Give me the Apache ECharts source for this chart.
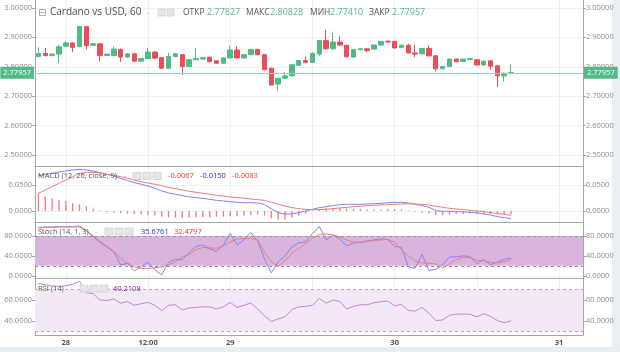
<!DOCTYPE html>
<html>
<head>
<meta charset="utf-8">
<script src="https://cdn.jsdelivr.net/npm/echarts@6/dist/echarts.min.js"></script>
<style>
  html, body { margin: 0; padding: 0; background: #fff; }
  #chart { width: 620px; height: 352px; }
</style>
</head>
<body>
<div id="chart"></div>
<script>
// hourly candles, 27 20:00 .. 30 17:00; x = hours from 28 00:00
const firstHour = -4;

// [open, close, low, high]
const candles = [
  [2.835, 2.845, 2.832, 2.866], [2.845, 2.838, 2.835, 2.864], [2.838, 2.843, 2.836, 2.846], [2.843, 2.868, 2.813, 2.875], [2.870, 2.881, 2.868, 2.886],
  [2.881, 2.866, 2.850, 2.883], [2.869, 2.937, 2.866, 2.938], [2.937, 2.872, 2.858, 2.938], [2.873, 2.878, 2.872, 2.880], [2.878, 2.838, 2.818, 2.880],
  [2.838, 2.843, 2.836, 2.845], [2.838, 2.860, 2.836, 2.869], [2.859, 2.833, 2.816, 2.862], [2.833, 2.844, 2.831, 2.846], [2.844, 2.819, 2.817, 2.847],
  [2.819, 2.828, 2.818, 2.830], [2.828, 2.850, 2.826, 2.864], [2.850, 2.829, 2.827, 2.852], [2.831, 2.795, 2.794, 2.832], [2.795, 2.835, 2.794, 2.847],
  [2.835, 2.844, 2.833, 2.846], [2.841, 2.801, 2.772, 2.843], [2.801, 2.824, 2.799, 2.826], [2.824, 2.828, 2.822, 2.864], [2.826, 2.831, 2.824, 2.833],
  [2.832, 2.818, 2.814, 2.835], [2.820, 2.812, 2.810, 2.821], [2.812, 2.830, 2.811, 2.832], [2.830, 2.857, 2.828, 2.872], [2.857, 2.830, 2.828, 2.870],
  [2.830, 2.841, 2.828, 2.844], [2.841, 2.859, 2.839, 2.861], [2.859, 2.841, 2.839, 2.861], [2.841, 2.790, 2.788, 2.843], [2.795, 2.738, 2.737, 2.797],
  [2.741, 2.761, 2.719, 2.763], [2.761, 2.769, 2.759, 2.783], [2.769, 2.807, 2.767, 2.809], [2.805, 2.821, 2.803, 2.823], [2.821, 2.815, 2.812, 2.835],
  [2.815, 2.845, 2.813, 2.849], [2.843, 2.889, 2.837, 2.891], [2.889, 2.861, 2.858, 2.926], [2.861, 2.884, 2.858, 2.915], [2.884, 2.874, 2.870, 2.903],
  [2.873, 2.834, 2.832, 2.875], [2.833, 2.858, 2.831, 2.860], [2.858, 2.861, 2.856, 2.863], [2.861, 2.855, 2.850, 2.863], [2.860, 2.874, 2.858, 2.876],
  [2.874, 2.886, 2.872, 2.888], [2.887, 2.884, 2.882, 2.889], [2.886, 2.864, 2.862, 2.888], [2.866, 2.873, 2.864, 2.875], [2.873, 2.847, 2.845, 2.878],
  [2.847, 2.843, 2.833, 2.875], [2.844, 2.862, 2.842, 2.865], [2.862, 2.837, 2.835, 2.872], [2.837, 2.793, 2.785, 2.839], [2.793, 2.801, 2.791, 2.803],
  [2.801, 2.826, 2.799, 2.828], [2.826, 2.817, 2.815, 2.828], [2.818, 2.826, 2.816, 2.828], [2.825, 2.828, 2.823, 2.830], [2.824, 2.806, 2.804, 2.826],
  [2.806, 2.819, 2.804, 2.821], [2.820, 2.802, 2.790, 2.822], [2.803, 2.769, 2.731, 2.805], [2.769, 2.778, 2.750, 2.780], [2.77827, 2.77957, 2.77410, 2.80828]
];

const macdLine = [
  0.0679, 0.0705, 0.0724, 0.0750, 0.0769, 0.0788, 0.0801, 0.0788, 0.0769, 0.0737,
  0.0705, 0.0673, 0.0628, 0.0583, 0.0545, 0.0513, 0.0481, 0.0436, 0.0385, 0.0346,
  0.0321, 0.0295, 0.0269, 0.0256, 0.0244, 0.0224, 0.0205, 0.0192, 0.0179, 0.0167,
  0.0160, 0.0160, 0.0154, 0.0128, 0.0038, -0.0032, -0.0058, -0.0058, -0.0032, 0.0000,
  0.0032, 0.0064, 0.0083, 0.0103, 0.0122, 0.0128, 0.0128, 0.0128, 0.0135, 0.0141,
  0.0147, 0.0160, 0.0167, 0.0167, 0.0154, 0.0128, 0.0103, 0.0071, 0.0006, -0.0006,
  -0.0006, -0.0013, -0.0019, -0.0026, -0.0038, -0.0058, -0.0077, -0.0109, -0.0128, -0.0150
];
const signalLine = [
  0.0340, 0.0404, 0.0468, 0.0532, 0.0596, 0.0660, 0.0724, 0.0744, 0.0744, 0.0731,
  0.0705, 0.0686, 0.0660, 0.0628, 0.0596, 0.0564, 0.0538, 0.0513, 0.0487, 0.0455,
  0.0429, 0.0404, 0.0378, 0.0359, 0.0340, 0.0321, 0.0301, 0.0288, 0.0269, 0.0256,
  0.0244, 0.0231, 0.0218, 0.0205, 0.0167, 0.0128, 0.0096, 0.0064, 0.0045, 0.0032,
  0.0026, 0.0026, 0.0032, 0.0045, 0.0058, 0.0071, 0.0083, 0.0090, 0.0103, 0.0109,
  0.0115, 0.0122, 0.0128, 0.0135, 0.0141, 0.0135, 0.0128, 0.0115, 0.0090, 0.0071,
  0.0051, 0.0038, 0.0026, 0.0013, 0.0000, -0.0013, -0.0032, -0.0051, -0.0064, -0.0083
];
const macdHist = [
  0.034, 0.028, 0.024, 0.021, 0.019, 0.015, 0.013, 0.009, 0.005, 0.001,
  -0.002, -0.003, -0.004, -0.005, -0.006, -0.007, -0.008, -0.009, -0.011, -0.012,
  -0.013, -0.013, -0.013, -0.012, -0.012, -0.012, -0.011, -0.011, -0.010, -0.010,
  -0.009, -0.008, -0.007, -0.009, -0.014, -0.017, -0.017, -0.013, -0.009, -0.005,
  0.001, 0.004, 0.006, 0.006, 0.006, 0.005, 0.004, 0.004, 0.003, 0.003,
  0.003, 0.004, 0.004, 0.003, 0.001, -0.001, -0.003, -0.005, -0.008, -0.008,
  -0.007, -0.006, -0.006, -0.005, -0.005, -0.006, -0.006, -0.007, -0.007, -0.0067
];

const stochK = [
  97, 98, 98, 99, 98, 99, 100, 90, 78, 67,
  58, 48, 22, 25, 10, 18, 28, 12, 2, 27,
  33, 32, 47, 59, 62, 54, 49, 62, 85, 62,
  72, 87, 70, 34, 6, 28, 40, 58, 66, 68,
  85, 99, 72, 82, 74, 60, 66, 67, 70, 72,
  74, 73, 59, 57, 18, 15, 43, 11, 13, 22,
  38, 38, 40, 39, 24, 33, 22, 28, 33, 35.6761
];
const stochD = [
  96, 97, 97, 98, 98, 98, 98, 90, 80, 69,
  59, 49, 35, 26, 18, 15, 15, 16, 18, 22,
  28, 38, 43, 52, 57, 56, 55, 60, 68, 74,
  75, 75, 72, 48, 28, 19, 30, 45, 55, 65,
  75, 83, 84, 82, 78, 72, 68, 67, 69, 71,
  72, 73, 68, 52, 40, 30, 26, 25, 24, 16,
  24, 32, 37, 36, 31, 30, 27, 26, 28, 32.4797
];

const rsi = [
  75.9, 74.5, 73.5, 73.0, 73.6, 75.0, 78.0, 67.0, 66.0, 60.0,
  59.6, 61.0, 57.0, 58.5, 55.0, 56.5, 57.8, 55.0, 49.8, 55.0,
  55.5, 50.5, 52.5, 53.0, 53.5, 53.5, 51.5, 53.5, 57.8, 53.0,
  55.0, 57.2, 51.5, 45.0, 39.5, 42.0, 44.0, 51.0, 53.5, 54.0,
  55.0, 61.6, 57.0, 60.0, 58.5, 51.5, 54.0, 55.5, 55.5, 57.5,
  58.4, 59.0, 54.5, 56.0, 50.0, 49.5, 53.0, 47.5, 40.5, 41.0,
  45.5, 46.5, 46.7, 46.5, 44.0, 47.0, 44.5, 40.5, 38.4, 40.2108
];

const xTicks = [0, 12, 24, 36, 48, 60, 72];
const xLabelTicks = [0, 12, 24, 48, 72];
const xLabelText = { 0: '28', 12: '12:00', 24: '29', 48: '30', 72: '31' };
const priceTicks = [2.5, 2.6, 2.7, 2.8, 2.9, 3.0];
const macdTicks = [0, 0.05];
const stochTicks = [0, 40, 80];
const rsiTicks = [40, 60];

const FONT = '"Open Sans", "Noto Sans", sans-serif';
const UP = '#53b987', DOWN = '#eb4d5c';
const axisColor = '#a6a6a6', gridColor = '#eef1f4', labelColor = '#8c8c8c';

const xs = (arr) => arr.map((v, i) => [firstHour + i, v]);

function xAxis(gridIndex, withLabels) {
  return {
    type: 'value', gridIndex, min: -4.5, max: 75.5,
    axisLine: { show: true, onZero: false, lineStyle: { color: axisColor } },
    axisTick: { show: false, customValues: xTicks },
    axisLabel: withLabels ? {
      customValues: xLabelTicks, margin: 4, fontSize: 7.5, fontWeight: 'bold',
      color: '#555', fontFamily: FONT, formatter: v => xLabelText[v] || ''
    } : { show: false },
    splitLine: { show: true, lineStyle: { color: gridColor } }
  };
}

function yPair(gridIndex, min, max, ticks, digits) {
  const base = {
    type: 'value', gridIndex, min, max,
    axisLine: { show: true, onZero: false, lineStyle: { color: axisColor } },
    axisTick: { show: true, length: 3, customValues: ticks, lineStyle: { color: axisColor } },
    axisLabel: { customValues: ticks, margin: 3, fontSize: 7.5, color: labelColor, fontFamily: FONT,
      formatter: v => v.toFixed(digits) }
  };
  return [
    Object.assign({}, base, { position: 'left', splitLine: { show: true, lineStyle: { color: gridColor } } }),
    Object.assign({}, base, { position: 'right', splitLine: { show: false } })
  ];
}

function txt(x, y, text, size, fill, weight) {
  return { type: 'text', x, y, silent: true, z: 100,
    style: { text, fill, fontSize: size, fontFamily: FONT, fontWeight: weight || 'normal', verticalAlign: 'middle' } };
}
function box(x, y, w, h) {
  return { type: 'rect', silent: true, z: 100, shape: { x, y, width: w, height: h },
    style: { fill: '#e4e6e9', stroke: '#cdd0d4', lineWidth: 0.8 } };
}

const last = candles[candles.length - 1];
const n = candles.length - 1;

const graphic = [
  { type: 'rect', silent: true, shape: { x: 612, y: 0, width: 8, height: 352 }, style: { fill: '#eceff2' } },
  { type: 'rect', silent: true, shape: { x: 0, y: 347, width: 620, height: 5 }, style: { fill: '#e9eef2' } },
  // main legend
  { type: 'rect', silent: true, z: 100, shape: { x: 39.5, y: 9.5, width: 6, height: 6 }, style: { fill: 'none', stroke: '#999', lineWidth: 0.8 } },
  { type: 'line', silent: true, z: 100, shape: { x1: 40.5, y1: 12.5, x2: 44.5, y2: 12.5 }, style: { stroke: '#999', lineWidth: 0.8 } },
  txt(50, 12.5, 'Cardano vs USD, 60', 10, '#4a4a4a'),
  txt(147, 12.5, '-', 8, '#aaa'),
  box(158, 9, 7, 7), box(167, 9, 7, 7),
  txt(183, 12.5, 'ОТКР', 8.5, '#555'), txt(207, 12.5, last[0].toFixed(5), 9, UP),
  txt(246, 12.5, 'МАКС', 8.5, '#555'), txt(270, 12.5, last[3].toFixed(5), 9, UP),
  txt(310, 12.5, 'МИН', 8.5, '#555'), txt(330, 12.5, last[2].toFixed(5), 9, UP),
  txt(369, 12.5, 'ЗАКР', 8.5, '#555'), txt(392, 12.5, last[1].toFixed(5), 9, UP),
  // MACD legend
  txt(38, 176, 'MACD (12, 26, close, 9)', 7.5, '#555'),
  txt(124, 176, '-', 7, '#aaa'),
  box(133, 172.5, 8, 7), box(143, 172.5, 8, 7), box(153, 172.5, 8, 7),
  txt(168, 176, macdHist[n].toFixed(4), 7.5, '#e53935'),
  txt(200, 176, macdLine[n].toFixed(4), 7.5, '#2a2ae0'),
  txt(232, 176, signalLine[n].toFixed(4), 7.5, '#e53935'),
  // Stoch legend
  txt(38, 231.5, 'Stoch (14, 1, 3)', 7.5, '#555'),
  txt(95, 231.5, '-', 7, '#aaa'),
  box(105, 228, 8, 7), box(115, 228, 8, 7), box(125, 228, 8, 7),
  txt(141, 231.5, stochK[n].toFixed(4), 7.5, '#2a2ae0'),
  txt(174, 231.5, stochD[n].toFixed(4), 7.5, '#e53935'),
  // RSI legend
  txt(38, 288.5, 'RSI (14)', 7.5, '#555'),
  txt(70, 288.5, '-', 7, '#aaa'),
  box(80, 285, 8, 7), box(90, 285, 8, 7), box(100, 285, 8, 7),
  txt(113, 288.5, rsi[n].toFixed(4), 7.5, '#8e1a9e')
];

const chart = echarts.init(document.getElementById('chart'));
chart.setOption({
  animation: false,
  backgroundColor: '#fff',
  grid: [
    { left: 35, right: 37, top: 0, height: 166 },
    { left: 35, right: 37, top: 166, height: 56 },
    { left: 35, right: 37, top: 222, height: 56 },
    { left: 35, right: 37, top: 278, height: 57 }
  ],
  xAxis: [xAxis(0, false), xAxis(1, false), xAxis(2, false), xAxis(3, true)],
  yAxis: [].concat(
    yPair(0, 2.4625, 3.027, priceTicks, 5),
    yPair(1, -0.0212, 0.0865, macdTicks, 4),
    yPair(2, -4.4, 108, stochTicks, 4),
    yPair(3, 26.7, 81, rsiTicks, 4)
  ),
  graphic,
  series: [
    {
      type: 'candlestick', xAxisIndex: 0, yAxisIndex: 0, barWidth: 5,
      data: candles.map((c, i) => [firstHour + i, c[0], c[1], c[2], c[3]]),
      itemStyle: { color: UP, color0: DOWN, borderColor: UP, borderColor0: DOWN, borderWidth: 1 },
      markLine: {
        silent: true, symbol: 'none', precision: 5,
        lineStyle: { color: '#93d3b6', width: 1, type: 'solid' },
        label: {
          formatter: () => last[1].toFixed(5), color: '#fff', backgroundColor: UP,
          fontSize: 7.5, fontFamily: FONT, padding: [2, 3], distance: 1
        },
        data: [
          { yAxis: last[1], label: { position: 'start' } },
          { yAxis: last[1], label: { position: 'end' } }
        ]
      }
    },
    {
      type: 'bar', xAxisIndex: 1, yAxisIndex: 2, barWidth: 1.3,
      data: xs(macdHist), itemStyle: { color: '#ee7f7f' }
    },
    {
      type: 'line', xAxisIndex: 1, yAxisIndex: 2, data: xs(macdLine),
      showSymbol: false, lineStyle: { color: '#8383f2', width: 1 }, itemStyle: { color: '#8383f2' }
    },
    {
      type: 'line', xAxisIndex: 1, yAxisIndex: 2, data: xs(signalLine),
      showSymbol: false, lineStyle: { color: '#f07b7b', width: 1 }, itemStyle: { color: '#f07b7b' }
    },
    {
      type: 'line', xAxisIndex: 2, yAxisIndex: 4, data: xs(stochK),
      showSymbol: false, lineStyle: { color: '#8383f2', width: 1 }, itemStyle: { color: '#8383f2' },
      markArea: { silent: true, itemStyle: { color: '#d9b4dd' }, data: [[{ yAxis: 20 }, { yAxis: 80 }]] },
      markLine: { silent: true, symbol: 'none', label: { show: false },
        lineStyle: { color: '#a08aa6', width: 1, type: [3, 3] }, data: [{ yAxis: 80 }, { yAxis: 20 }] }
    },
    {
      type: 'line', xAxisIndex: 2, yAxisIndex: 4, data: xs(stochD),
      showSymbol: false, lineStyle: { color: '#f07b7b', width: 1 }, itemStyle: { color: '#f07b7b' }
    },
    {
      type: 'line', xAxisIndex: 3, yAxisIndex: 6, data: xs(rsi),
      showSymbol: false, lineStyle: { color: '#c184cd', width: 1 }, itemStyle: { color: '#c184cd' },
      markArea: { silent: true, itemStyle: { color: '#f3e8f5' }, data: [[{ yAxis: 30 }, { yAxis: 70 }]] },
      markLine: { silent: true, symbol: 'none', label: { show: false },
        lineStyle: { color: '#b8a8bc', width: 1, type: [3, 3] }, data: [{ yAxis: 70 }, { yAxis: 30 }] }
    }
  ]
});
</script>
</body>
</html>
